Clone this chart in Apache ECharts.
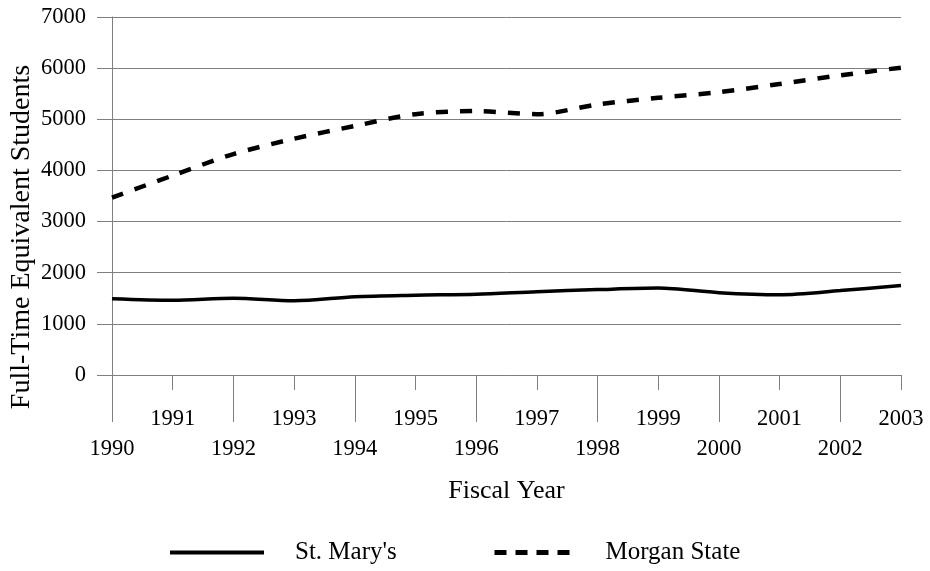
<!DOCTYPE html>
<html>
<head>
<meta charset="utf-8">
<script src="https://cdn.jsdelivr.net/npm/echarts@6/dist/echarts.min.js"></script>
<style>html,body{margin:0;padding:0;background:#fff}#c{width:930px;height:571px}</style>
</head>
<body>
<div id="c"></div>
<script>
var years = ['1990','1991','1992','1993','1994','1995','1996','1997','1998','1999','2000','2001','2002','2003'];
var stMarys = [1490, 1460, 1500, 1450, 1530, 1560, 1580, 1630, 1670, 1700, 1610, 1570, 1650, 1750];
var morganState = [3470, 3900, 4320, 4620, 4870, 5100, 5160, 5100, 5290, 5420, 5530, 5690, 5860, 6010];
var yTicks = [0, 1000, 2000, 3000, 4000, 5000, 6000, 7000];

var font = 'Liberation Serif';
var chart = echarts.init(document.getElementById('c'), null, {renderer: 'canvas'});
var gray = '#7f7f7f';
function isOdd(i){ return i % 2 === 1; }
function isEven(i){ return i % 2 === 0; }

chart.setOption({
  animation: false,
  backgroundColor: '#fff',
  grid: {left: 112, right: 29, top: 17, bottom: 196, containLabel: false},
  xAxis: [{
    type: 'category', data: years, boundaryGap: false, position: 'bottom',
    axisLine: {show: true, lineStyle: {color: gray, width: 1}},
    axisTick: {show: true, length: 15, interval: function(i){ return isOdd(i); }, lineStyle: {color: gray}},
    axisLabel: {interval: function(i){ return isOdd(i); }, margin: 33, fontFamily: font, fontSize: 22.5, color: '#000'},
    splitLine: {show: false}
  }, {
    type: 'category', data: years, boundaryGap: false, position: 'bottom', offset: 0,
    axisLine: {show: false},
    axisTick: {show: true, length: 47, interval: function(i){ return isEven(i); }, lineStyle: {color: gray}},
    axisLabel: {interval: function(i){ return isEven(i); }, margin: 63, fontFamily: font, fontSize: 22.5, color: '#000'},
    splitLine: {show: false},
    name: 'Fiscal Year', nameLocation: 'middle', nameGap: 103,
    nameTextStyle: {fontFamily: font, fontSize: 26, color: '#000'}
  }],
  yAxis: {
    type: 'value', min: yTicks[0], max: yTicks[yTicks.length - 1], interval: 1000,
    axisLine: {show: true, lineStyle: {color: gray, width: 1}},
    axisTick: {show: true, length: 15, lineStyle: {color: gray}},
    axisLabel: {margin: 26, fontFamily: font, fontSize: 22.5, color: '#000', formatter: function(v){ return String(v); }},
    splitLine: {show: true, lineStyle: {color: gray, width: 1}}
  },
  graphic: [{
    type: 'text', x: 22, y: 237, rotation: Math.PI / 2,
    style: {text: 'Full-Time Equivalent Students', font: '28px "Liberation Serif"', fill: '#000', align: 'center', verticalAlign: 'middle'}
  }],
  legend: [{
    data: [{name: "St. Mary's"}], left: 168, top: 540, padding: 0, itemWidth: 94, itemHeight: 16,
    itemStyle: {opacity: 0},
    lineStyle: {width: 4, color: '#000', type: 'solid'},
    textStyle: {fontFamily: font, fontSize: 25, color: '#000', padding: [0, 0, 0, 26]}
  }, {
    data: [{name: 'Morgan State'}], left: 492, top: 540, padding: 0, itemWidth: 75, itemHeight: 16,
    itemStyle: {opacity: 0},
    lineStyle: {width: 5, color: '#000', type: [12, 9]},
    textStyle: {fontFamily: font, fontSize: 25, color: '#000', padding: [0, 0, 0, 31]}
  }],
  series: [{
    name: "St. Mary's", type: 'line', data: stMarys, xAxisIndex: 0, smooth: 0.3,
    symbol: 'none', showSymbol: false,
    lineStyle: {color: '#000', width: 3.5, type: 'solid'}, itemStyle: {color: '#000'}
  }, {
    name: 'Morgan State', type: 'line', data: morganState, xAxisIndex: 0, smooth: 0.3,
    symbol: 'none', showSymbol: false,
    lineStyle: {color: '#000', width: 4.5, type: [12, 12]}, itemStyle: {color: '#000'}
  }]
});
</script>
</body>
</html>
